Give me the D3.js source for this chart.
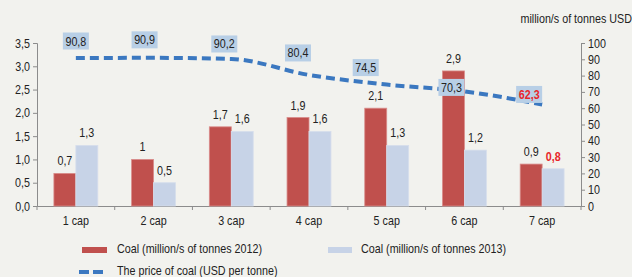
<!DOCTYPE html>
<html>
<head>
<meta charset="utf-8">
<script src="https://cdn.jsdelivr.net/npm/d3@7"></script>
<style>
  body { margin: 0; background: #f2f2ee; }
  svg { display: block; font-family: "Liberation Sans", Arial, sans-serif; }
  svg text { transform-box: fill-box; }
</style>
</head>
<body>
<div id="chart"></div>
<script>
const categories = ["1 cap", "2 cap", "3 cap", "4 cap", "5 cap", "6 cap", "7 cap"];
const coal2012 = [0.7, 1, 1.7, 1.9, 2.1, 2.9, 0.9];
const coal2013 = [1.3, 0.5, 1.6, 1.6, 1.3, 1.2, 0.8];
const price = [90.8, 90.9, 90.2, 80.4, 74.5, 70.3, 62.3];
const leftTicks = [0, 0.5, 1, 1.5, 2, 2.5, 3, 3.5];
const rightTicks = [0, 10, 20, 30, 40, 50, 60, 70, 80, 90, 100];
// label nudges for the price boxes (relative to the line point)
const priceLabelDx = [0, -9, -7, -11, -21, -13, -13];
const priceLabelDy = [-17, -18, -15, -22, -17, -4, -10];

const width = 632, height = 277;
const plotLeft = 37, plotRight = 581, plotTop = 43, plotBottom = 206;
const fs = 12.5;

const svg = d3.select("#chart").append("svg")
  .attr("width", width).attr("height", height);

svg.append("rect").attr("width", width).attr("height", height).attr("fill", "#f2f2ee");

const x = d3.scaleBand().domain(categories).range([plotLeft, plotRight]);
const series = ["a", "b"];
const x1 = d3.scaleBand().domain(series).range([0, x.bandwidth()]).paddingOuter(0.77);
const y = d3.scaleLinear().domain([0, 3.5]).range([plotBottom, plotTop]);
const y2 = d3.scaleLinear().domain([0, 100]).range([plotBottom, plotTop]);

const comma = v => String(v).replace(".", ",");
const axisColor = "#8c8c8c";

// axes
const gl = svg.append("g").attr("transform", `translate(${plotLeft},0)`)
  .call(d3.axisLeft(y).tickValues(leftTicks).tickSize(4).tickFormat(d => d3.format(".1f")(d).replace(".", ",")));
const gr = svg.append("g").attr("transform", `translate(${plotRight},0)`)
  .call(d3.axisRight(y2).tickValues(rightTicks).tickSize(4).tickFormat(d => d));
const gx = svg.append("g").attr("transform", `translate(0,${plotBottom})`)
  .call(d3.axisBottom(x).tickSize(0).tickPadding(10));
[gl, gr, gx].forEach(g => {
  g.select(".domain").attr("stroke", axisColor);
  g.selectAll(".tick line").attr("stroke", axisColor);
  g.selectAll("text").attr("fill", "#222").attr("font-size", fs).attr("font-family", null);
});
// category boundary ticks
gx.selectAll("line.sep").data(categories.concat(["end"])).join("line")
  .attr("class", "sep")
  .attr("x1", (d, i) => plotLeft + i * x.step()).attr("x2", (d, i) => plotLeft + i * x.step())
  .attr("y1", 0).attr("y2", 4).attr("stroke", axisColor);

// right axis title
svg.append("text").attr("x", 632).attr("y", 23).attr("text-anchor", "end")
  .attr("font-size", fs).attr("fill", "#222").text("million/s of tonnes USD");

// bars
const redFill = "#c0504d", blueFill = "#c7d3e7";
const bars = svg.append("g");
bars.selectAll("rect.r").data(coal2012).join("rect").attr("class", "r")
  .attr("x", (d, i) => x(categories[i]) + x1("a")).attr("width", x1.bandwidth())
  .attr("y", d => y(d)).attr("height", d => plotBottom - y(d))
  .attr("fill", redFill).attr("stroke", "#d98c8a").attr("stroke-width", 0.8);
bars.selectAll("rect.b").data(coal2013).join("rect").attr("class", "b")
  .attr("x", (d, i) => x(categories[i]) + x1("b")).attr("width", x1.bandwidth())
  .attr("y", d => y(d)).attr("height", d => plotBottom - y(d))
  .attr("fill", blueFill).attr("stroke", "#d6deec").attr("stroke-width", 0.8);

// bar labels
bars.selectAll("text.r").data(coal2012).join("text").attr("class", "r")
  .attr("x", (d, i) => x(categories[i]) + x1("a") + x1.bandwidth() / 2)
  .attr("y", d => y(d) - 8).attr("text-anchor", "middle")
  .attr("font-size", fs).attr("fill", "#222").text(comma);
bars.selectAll("text.b").data(coal2013).join("text").attr("class", "b")
  .attr("x", (d, i) => x(categories[i]) + x1("b") + x1.bandwidth() / 2)
  .attr("y", d => y(d) - 8).attr("text-anchor", "middle")
  .attr("font-size", fs)
  .attr("fill", (d, i) => i === categories.length - 1 ? "#e8262a" : "#222")
  .attr("font-weight", (d, i) => i === categories.length - 1 ? "bold" : null)
  .text(comma);

// price line
const cx = c => x(c) + x.bandwidth() / 2;
const line = d3.line().x((d, i) => cx(categories[i])).y(d => y2(d)).curve(d3.curveMonotoneX);
svg.append("path").datum(price).attr("d", line)
  .attr("fill", "none").attr("stroke", "#3b78c0").attr("stroke-width", 4)
  .attr("stroke-dasharray", "9,5");

// price labels
const pl = svg.append("g").selectAll("g").data(price).join("g")
  .attr("transform", (d, i) => `translate(${cx(categories[i]) + priceLabelDx[i]},${y2(d) + priceLabelDy[i]})`);
pl.append("rect").attr("x", -13).attr("y", -8.5).attr("width", 26).attr("height", 17)
  .attr("fill", "#b8cfe6");
pl.append("text").attr("text-anchor", "middle").attr("dy", "0.36em")
  .attr("font-size", fs)
  .attr("fill", (d, i) => i === price.length - 1 ? "#e8262a" : "#222")
  .attr("font-weight", (d, i) => i === price.length - 1 ? "bold" : null)
  .text(comma);

// legend
const lg = svg.append("g");
lg.append("rect").attr("x", 82).attr("y", 247).attr("width", 25).attr("height", 6).attr("fill", redFill);
lg.append("text").attr("x", 117).attr("y", 253.5).attr("font-size", fs).attr("fill", "#222")
  .text("Coal (million/s of tonnes 2012)");
lg.append("rect").attr("x", 328).attr("y", 247).attr("width", 24).attr("height", 6).attr("fill", blueFill);
lg.append("text").attr("x", 361).attr("y", 253.5).attr("font-size", fs).attr("fill", "#222")
  .text("Coal (million/s of tonnes 2013)");
lg.append("line").attr("x1", 79).attr("x2", 104).attr("y1", 272).attr("y2", 272)
  .attr("stroke", "#3b78c0").attr("stroke-width", 4).attr("stroke-dasharray", "10,4");
lg.append("text").attr("x", 117).attr("y", 275.5).attr("font-size", fs).attr("fill", "#222")
  .text("The price of coal (USD per tonne)");

// squeeze all text horizontally to mimic the narrow face, keeping the anchor in place
svg.selectAll("text").each(function() {
  const anchor = getComputedStyle(this).textAnchor;
  const ox = anchor === "middle" ? "50%" : anchor === "end" ? "100%" : "0%";
  this.style.transformOrigin = `${ox} 50%`;
  this.style.transform = "scaleX(0.86)";
});
</script>
</body>
</html>
